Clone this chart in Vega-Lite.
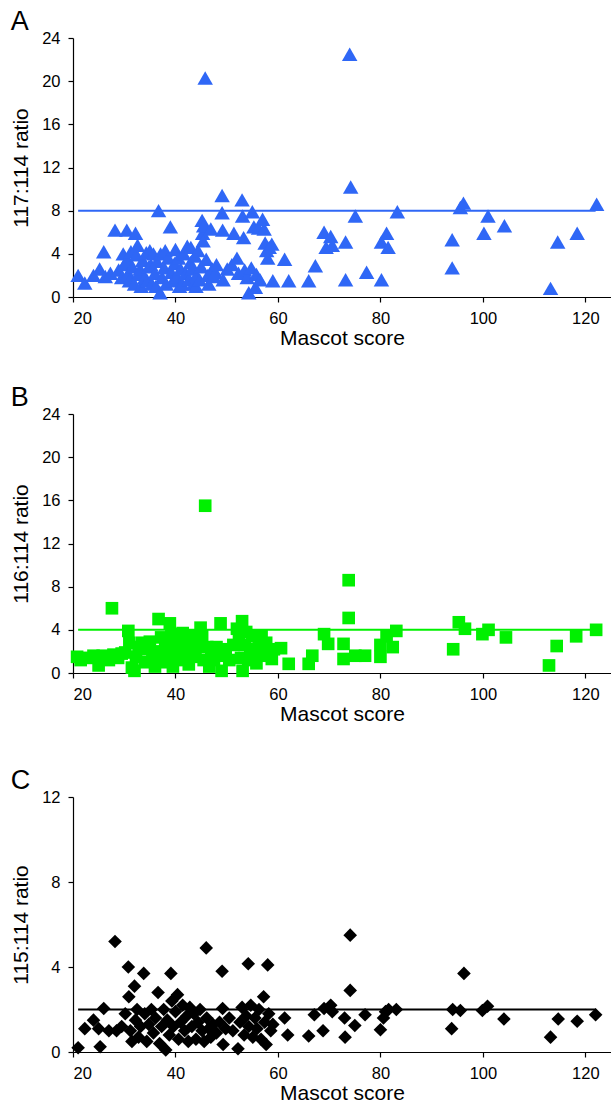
{
  "$schema": "https://vega.github.io/schema/vega-lite/v6.json",
  "background": "white",
  "padding": {"left": 10, "top": 8, "right": 0, "bottom": 0},
  "spacing": 42,
  "config": {
    "view": {"stroke": null},
    "font": "Liberation Sans",
    "axis": {"grid": false, "domainColor": "black", "tickColor": "black", "labelColor": "black", "titleColor": "black", "labelFontSize": 16.5, "titleFontSize": 21, "titleFontWeight": "normal", "tickSize": 5, "domainWidth": 1.2, "tickWidth": 1.2, "labelFont": "Liberation Sans", "titleFont": "Liberation Sans", "labelPadding": 8},
    "axisX": {"titlePadding": 1},
    "axisY": {"titlePadding": 10},
    "title": {"fontSize": 27, "fontWeight": "normal", "anchor": "start", "frame": "bounds", "color": "black", "font": "Liberation Sans"}
  },
  "datasets": {
    "r117": [
      {"score":21.0,"ratio":2.0},{"score":22.3,"ratio":1.3},{"score":24.0,"ratio":2.0},{"score":25.2,"ratio":2.6},{"score":26.0,"ratio":4.2},{"score":26.3,"ratio":1.9},{"score":27.3,"ratio":2.2},{"score":28.2,"ratio":6.2},{"score":28.9,"ratio":2.5},{"score":29.5,"ratio":1.8},{"score":29.8,"ratio":4.0},{"score":30.0,"ratio":3.0},{"score":30.5,"ratio":6.2},{"score":30.6,"ratio":3.5},{"score":30.8,"ratio":2.2},{"score":31.0,"ratio":1.5},{"score":31.3,"ratio":4.2},{"score":31.6,"ratio":2.8},{"score":32.0,"ratio":1.2},{"score":32.2,"ratio":5.9},{"score":32.4,"ratio":3.9},{"score":32.6,"ratio":4.8},{"score":32.8,"ratio":2.1},{"score":33.1,"ratio":2.6},{"score":33.3,"ratio":1.0},{"score":33.6,"ratio":3.4},{"score":34.0,"ratio":1.8},{"score":34.3,"ratio":4.1},{"score":34.5,"ratio":1.5},{"score":34.8,"ratio":2.8},{"score":35.0,"ratio":4.3},{"score":35.2,"ratio":3.0},{"score":35.4,"ratio":1.2},{"score":35.7,"ratio":4.0},{"score":36.0,"ratio":2.2},{"score":36.2,"ratio":1.0},{"score":36.4,"ratio":3.3},{"score":36.7,"ratio":8.0},{"score":37.0,"ratio":0.4},{"score":37.1,"ratio":4.0},{"score":37.4,"ratio":1.8},{"score":37.8,"ratio":2.7},{"score":38.0,"ratio":4.3},{"score":38.2,"ratio":1.2},{"score":38.6,"ratio":3.6},{"score":39.0,"ratio":6.5},{"score":39.2,"ratio":2.3},{"score":39.5,"ratio":1.5},{"score":39.8,"ratio":3.1},{"score":40.0,"ratio":4.4},{"score":40.3,"ratio":1.9},{"score":40.6,"ratio":3.6},{"score":40.8,"ratio":1.0},{"score":41.0,"ratio":2.6},{"score":41.3,"ratio":1.2},{"score":41.6,"ratio":4.0},{"score":42.0,"ratio":2.2},{"score":42.3,"ratio":4.7},{"score":42.6,"ratio":1.6},{"score":42.9,"ratio":3.2},{"score":43.0,"ratio":4.6},{"score":43.2,"ratio":2.6},{"score":43.5,"ratio":1.2},{"score":43.8,"ratio":3.8},{"score":44.0,"ratio":1.0},{"score":44.1,"ratio":2.0},{"score":44.4,"ratio":4.3},{"score":44.7,"ratio":1.6},{"score":45.0,"ratio":2.8},{"score":45.2,"ratio":7.1},{"score":45.3,"ratio":5.9},{"score":45.4,"ratio":5.2},{"score":45.5,"ratio":6.6},{"score":45.8,"ratio":20.3},{"score":46.0,"ratio":3.5},{"score":46.3,"ratio":2.0},{"score":46.5,"ratio":1.2},{"score":46.9,"ratio":6.3},{"score":47.2,"ratio":2.6},{"score":47.5,"ratio":1.9},{"score":47.8,"ratio":2.3},{"score":48.0,"ratio":3.0},{"score":49.1,"ratio":9.4},{"score":49.1,"ratio":7.8},{"score":49.2,"ratio":6.2},{"score":49.3,"ratio":1.6},{"score":50.1,"ratio":2.6},{"score":51.0,"ratio":3.0},{"score":51.4,"ratio":5.9},{"score":52.0,"ratio":3.6},{"score":52.3,"ratio":2.2},{"score":53.0,"ratio":9.0},{"score":53.1,"ratio":7.5},{"score":53.3,"ratio":5.5},{"score":53.5,"ratio":2.5},{"score":54.0,"ratio":1.8},{"score":54.3,"ratio":0.4},{"score":54.8,"ratio":2.7},{"score":55.0,"ratio":7.9},{"score":55.3,"ratio":6.5},{"score":55.6,"ratio":0.9},{"score":55.8,"ratio":2.1},{"score":56.2,"ratio":6.4},{"score":56.5,"ratio":1.6},{"score":57.0,"ratio":7.2},{"score":57.3,"ratio":6.3},{"score":57.5,"ratio":5.0},{"score":57.8,"ratio":4.3},{"score":58.0,"ratio":3.6},{"score":58.3,"ratio":4.6},{"score":58.8,"ratio":4.9},{"score":59.0,"ratio":1.5},{"score":61.3,"ratio":3.5},{"score":62.1,"ratio":1.5},{"score":66.0,"ratio":1.5},{"score":67.3,"ratio":2.9},{"score":69.0,"ratio":6.0},{"score":69.4,"ratio":4.6},{"score":70.3,"ratio":5.6},{"score":70.6,"ratio":4.8},{"score":73.2,"ratio":5.1},{"score":73.2,"ratio":1.6},{"score":74.0,"ratio":22.5},{"score":74.2,"ratio":10.2},{"score":75.1,"ratio":7.5},{"score":77.3,"ratio":2.3},{"score":80.2,"ratio":1.6},{"score":80.2,"ratio":5.1},{"score":81.2,"ratio":5.9},{"score":81.5,"ratio":4.6},{"score":83.3,"ratio":7.9},{"score":94.0,"ratio":5.3},{"score":94.0,"ratio":2.7},{"score":95.6,"ratio":8.3},{"score":96.2,"ratio":8.7},{"score":100.2,"ratio":5.9},{"score":101.0,"ratio":7.5},{"score":104.2,"ratio":6.6},{"score":113.2,"ratio":0.8},{"score":114.6,"ratio":5.1},{"score":118.4,"ratio":5.9},{"score":122.2,"ratio":8.6}
    ],
    "r116": [
      {"score":20.8,"ratio":1.5},{"score":21.5,"ratio":1.2},{"score":22.7,"ratio":1.4},{"score":24.0,"ratio":1.6},{"score":25.0,"ratio":0.7},{"score":25.8,"ratio":1.6},{"score":27.0,"ratio":1.2},{"score":27.6,"ratio":6.0},{"score":27.9,"ratio":1.7},{"score":28.8,"ratio":1.4},{"score":29.5,"ratio":1.8},{"score":30.2,"ratio":1.9},{"score":30.8,"ratio":3.9},{"score":31.0,"ratio":2.8},{"score":31.5,"ratio":0.5},{"score":32.0,"ratio":0.2},{"score":32.3,"ratio":1.5},{"score":32.8,"ratio":2.4},{"score":33.5,"ratio":2.8},{"score":34.0,"ratio":1.0},{"score":34.5,"ratio":2.2},{"score":35.0,"ratio":2.9},{"score":35.5,"ratio":1.4},{"score":36.0,"ratio":0.6},{"score":36.5,"ratio":2.0},{"score":36.7,"ratio":5.0},{"score":37.2,"ratio":3.3},{"score":37.6,"ratio":1.0},{"score":38.0,"ratio":2.6},{"score":38.4,"ratio":1.6},{"score":38.9,"ratio":4.6},{"score":39.2,"ratio":3.6},{"score":39.5,"ratio":0.6},{"score":39.9,"ratio":2.2},{"score":40.3,"ratio":3.2},{"score":40.7,"ratio":1.2},{"score":41.0,"ratio":2.4},{"score":41.4,"ratio":3.7},{"score":41.8,"ratio":1.8},{"score":42.2,"ratio":2.9},{"score":42.6,"ratio":0.8},{"score":43.0,"ratio":2.2},{"score":43.5,"ratio":3.4},{"score":43.9,"ratio":1.5},{"score":44.3,"ratio":2.6},{"score":44.9,"ratio":4.2},{"score":45.2,"ratio":3.4},{"score":45.5,"ratio":1.2},{"score":45.8,"ratio":15.5},{"score":46.2,"ratio":2.4},{"score":46.6,"ratio":0.6},{"score":47.0,"ratio":1.8},{"score":47.5,"ratio":1.2},{"score":48.0,"ratio":2.4},{"score":48.8,"ratio":4.6},{"score":49.0,"ratio":0.2},{"score":49.3,"ratio":1.6},{"score":49.8,"ratio":2.2},{"score":50.5,"ratio":1.2},{"score":51.3,"ratio":2.6},{"score":52.0,"ratio":4.1},{"score":52.4,"ratio":3.2},{"score":52.8,"ratio":1.4},{"score":53.0,"ratio":4.8},{"score":53.1,"ratio":0.2},{"score":53.5,"ratio":2.6},{"score":53.8,"ratio":3.8},{"score":54.2,"ratio":1.2},{"score":54.6,"ratio":2.2},{"score":55.0,"ratio":3.4},{"score":55.4,"ratio":1.8},{"score":55.8,"ratio":0.9},{"score":56.3,"ratio":2.6},{"score":56.8,"ratio":3.4},{"score":57.2,"ratio":1.6},{"score":57.7,"ratio":2.8},{"score":58.2,"ratio":2.0},{"score":58.8,"ratio":1.3},{"score":59.2,"ratio":2.2},{"score":60.6,"ratio":2.3},{"score":62.1,"ratio":0.85},{"score":66.0,"ratio":0.85},{"score":66.7,"ratio":1.6},{"score":69.0,"ratio":3.6},{"score":69.8,"ratio":2.7},{"score":72.8,"ratio":2.7},{"score":72.8,"ratio":1.3},{"score":73.8,"ratio":8.6},{"score":73.8,"ratio":5.1},{"score":75.1,"ratio":1.6},{"score":77.0,"ratio":1.6},{"score":80.0,"ratio":1.5},{"score":80.0,"ratio":2.6},{"score":81.2,"ratio":3.4},{"score":82.4,"ratio":2.4},{"score":83.1,"ratio":3.9},{"score":94.2,"ratio":2.2},{"score":95.3,"ratio":4.7},{"score":96.5,"ratio":4.1},{"score":99.9,"ratio":3.6},{"score":101.1,"ratio":4.0},{"score":104.5,"ratio":3.3},{"score":112.9,"ratio":0.7},{"score":114.4,"ratio":2.5},{"score":118.2,"ratio":3.4},{"score":122.1,"ratio":4.0}
    ],
    "r115": [
      {"score":21.0,"ratio":0.2},{"score":22.3,"ratio":1.1},{"score":24.0,"ratio":1.5},{"score":25.0,"ratio":1.1},{"score":25.3,"ratio":0.25},{"score":26.0,"ratio":2.05},{"score":27.0,"ratio":1.0},{"score":28.2,"ratio":5.2},{"score":28.5,"ratio":1.0},{"score":29.5,"ratio":1.2},{"score":30.2,"ratio":1.8},{"score":30.8,"ratio":4.0},{"score":30.9,"ratio":2.6},{"score":31.2,"ratio":1.0},{"score":31.5,"ratio":0.5},{"score":32.0,"ratio":3.1},{"score":32.2,"ratio":1.5},{"score":32.5,"ratio":2.0},{"score":32.8,"ratio":0.7},{"score":33.2,"ratio":1.2},{"score":33.8,"ratio":3.7},{"score":34.0,"ratio":1.8},{"score":34.4,"ratio":0.5},{"score":34.8,"ratio":1.3},{"score":35.3,"ratio":2.0},{"score":35.7,"ratio":0.9},{"score":36.1,"ratio":1.6},{"score":36.6,"ratio":2.8},{"score":36.9,"ratio":0.4},{"score":37.3,"ratio":1.2},{"score":37.7,"ratio":2.0},{"score":38.1,"ratio":0.1},{"score":38.4,"ratio":1.5},{"score":38.8,"ratio":0.8},{"score":39.1,"ratio":3.7},{"score":39.3,"ratio":2.4},{"score":39.6,"ratio":1.2},{"score":40.0,"ratio":1.9},{"score":40.4,"ratio":2.7},{"score":40.6,"ratio":0.6},{"score":41.0,"ratio":1.4},{"score":41.4,"ratio":2.2},{"score":41.8,"ratio":1.0},{"score":42.2,"ratio":1.7},{"score":42.5,"ratio":0.5},{"score":42.8,"ratio":2.1},{"score":43.2,"ratio":1.2},{"score":43.6,"ratio":1.8},{"score":44.0,"ratio":0.6},{"score":44.4,"ratio":1.4},{"score":44.8,"ratio":2.0},{"score":45.2,"ratio":1.0},{"score":45.6,"ratio":0.5},{"score":46.0,"ratio":4.9},{"score":46.1,"ratio":1.6},{"score":46.5,"ratio":1.1},{"score":46.9,"ratio":0.7},{"score":47.3,"ratio":1.3},{"score":48.0,"ratio":0.9},{"score":48.6,"ratio":1.4},{"score":49.1,"ratio":3.8},{"score":49.2,"ratio":2.05},{"score":49.3,"ratio":0.35},{"score":49.8,"ratio":1.1},{"score":50.5,"ratio":1.6},{"score":51.2,"ratio":1.0},{"score":52.2,"ratio":0.15},{"score":52.6,"ratio":1.4},{"score":53.0,"ratio":2.1},{"score":53.4,"ratio":0.8},{"score":53.8,"ratio":1.7},{"score":54.2,"ratio":4.15},{"score":54.3,"ratio":1.2},{"score":54.7,"ratio":2.2},{"score":55.1,"ratio":0.7},{"score":55.5,"ratio":1.6},{"score":55.9,"ratio":1.1},{"score":56.3,"ratio":2.0},{"score":56.7,"ratio":0.6},{"score":57.2,"ratio":2.6},{"score":57.4,"ratio":1.4},{"score":57.7,"ratio":0.35},{"score":58.0,"ratio":4.1},{"score":58.2,"ratio":1.8},{"score":58.6,"ratio":1.0},{"score":59.0,"ratio":1.3},{"score":61.3,"ratio":1.6},{"score":61.9,"ratio":0.8},{"score":66.0,"ratio":0.75},{"score":67.1,"ratio":1.75},{"score":68.8,"ratio":1.0},{"score":69.0,"ratio":2.05},{"score":70.3,"ratio":2.2},{"score":70.6,"ratio":1.9},{"score":73.0,"ratio":1.6},{"score":73.1,"ratio":0.7},{"score":74.1,"ratio":5.5},{"score":74.1,"ratio":2.9},{"score":75.0,"ratio":1.25},{"score":77.0,"ratio":1.75},{"score":80.0,"ratio":1.05},{"score":80.6,"ratio":1.6},{"score":81.0,"ratio":1.9},{"score":81.6,"ratio":2.0},{"score":83.1,"ratio":2.0},{"score":93.9,"ratio":1.1},{"score":94.1,"ratio":2.0},{"score":95.6,"ratio":1.95},{"score":96.3,"ratio":3.7},{"score":99.9,"ratio":1.95},{"score":100.9,"ratio":2.15},{"score":104.1,"ratio":1.55},{"score":113.2,"ratio":0.7},{"score":114.7,"ratio":1.55},{"score":118.4,"ratio":1.45},{"score":122.0,"ratio":1.75}
    ],
    "l117": [{"start": 21, "end": 122, "level": 8}],
    "l116": [{"start": 21, "end": 122, "level": 4}],
    "l115": [{"start": 21, "end": 122, "level": 2}]
  },
  "vconcat": [
    {
      "spacing": 35,
      "vconcat": [
        {
          "title": {"text": "A", "offset": -6},
          "width": 538,
          "height": 259,
          "layer": [
            {
              "data": {"name": "r117"},
              "mark": {"type": "point", "shape": "triangle-up", "filled": true, "size": 240, "opacity": 1, "color": "#2f67f6"},
              "encoding": {
                "x": {"field": "score", "type": "quantitative", "scale": {"domain": [20, 125], "nice": false, "zero": false}, "axis": {"values": [20, 40, 60, 80, 100, 120], "title": "Mascot score"}},
                "y": {"field": "ratio", "type": "quantitative", "scale": {"domain": [0, 24], "nice": false}, "axis": {"values": [0, 4, 8, 12, 16, 20, 24], "title": "117:114 ratio"}}
              }
            },
            {
              "data": {"name": "l117"},
              "mark": {"type": "rule", "color": "#2f67f6", "strokeWidth": 2},
              "encoding": {
                "x": {"field": "start", "type": "quantitative"},
                "x2": {"field": "end"},
                "y": {"field": "level", "type": "quantitative"}
              }
            }
          ]
        },
        {
          "title": {"text": "B", "offset": -6},
          "width": 538,
          "height": 259,
          "layer": [
            {
              "data": {"name": "r116"},
              "mark": {"type": "point", "shape": "square", "filled": true, "size": 160, "opacity": 1, "color": "#00f000"},
              "encoding": {
                "x": {"field": "score", "type": "quantitative", "scale": {"domain": [20, 125], "nice": false, "zero": false}, "axis": {"values": [20, 40, 60, 80, 100, 120], "title": "Mascot score"}},
                "y": {"field": "ratio", "type": "quantitative", "scale": {"domain": [0, 24], "nice": false}, "axis": {"values": [0, 4, 8, 12, 16, 20, 24], "title": "116:114 ratio"}}
              }
            },
            {
              "data": {"name": "l116"},
              "mark": {"type": "rule", "color": "#00f000", "strokeWidth": 2},
              "encoding": {
                "x": {"field": "start", "type": "quantitative"},
                "x2": {"field": "end"},
                "y": {"field": "level", "type": "quantitative"}
              }
            }
          ]
        }
      ]
    },
    {
      "title": {"text": "C", "offset": -6},
      "width": 538,
      "height": 255,
      "layer": [
        {
          "data": {"name": "r115"},
          "mark": {"type": "point", "shape": "diamond", "filled": true, "size": 185, "opacity": 1, "color": "black"},
          "encoding": {
            "x": {"field": "score", "type": "quantitative", "scale": {"domain": [20, 125], "nice": false, "zero": false}, "axis": {"values": [20, 40, 60, 80, 100, 120], "title": "Mascot score"}},
            "y": {"field": "ratio", "type": "quantitative", "scale": {"domain": [0, 12], "nice": false}, "axis": {"values": [0, 4, 8, 12], "title": "115:114 ratio"}}
          }
        },
        {
          "data": {"name": "l115"},
          "mark": {"type": "rule", "color": "black", "strokeWidth": 1.8},
          "encoding": {
            "x": {"field": "start", "type": "quantitative"},
            "x2": {"field": "end"},
            "y": {"field": "level", "type": "quantitative"}
          }
        }
      ]
    }
  ]
}
